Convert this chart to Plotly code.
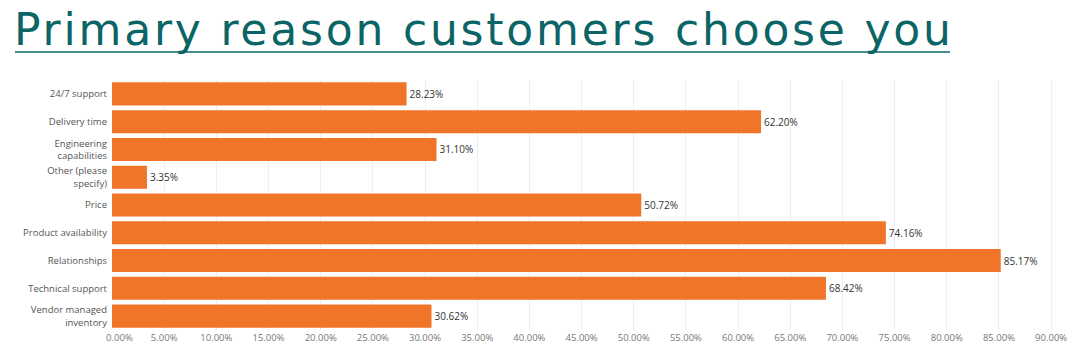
import plotly.graph_objects as go

categories = ["24/7 support", "Delivery time", "Engineering<br>capabilities",
              "Other (please<br>specify)", "Price", "Product availability",
              "Relationships", "Technical support", "Vendor managed<br>inventory"]
values = [28.23, 62.20, 31.10, 3.35, 50.72, 74.16, 85.17, 68.42, 30.62]
tick_vals = [0, 5, 10, 15, 20, 25, 30, 35, 40, 45, 50, 55, 60, 65, 70, 75, 80, 85, 90]
tick_text = ["\u00a0\u00a0\u00a0\u00a0\u00a0\u00a00.00%"] + [f"{v:.2f}%" for v in tick_vals[1:]]
title = "Primary reason customers choose you"

W, H = 1082, 360
L, T = 112, 80
R = 10
B = H - 330
PW, PH = W - L - R, H - T - B

fig = go.Figure(go.Bar(
    y=categories, x=values, orientation="h",
    marker=dict(color="#F07528", line=dict(width=0)),
    text=[f"{v:.2f}%" for v in values], textposition="outside",
    textfont=dict(size=10, color="#333333", family="Open Sans"),
    cliponaxis=False, width=0.83,
))

fig.update_layout(
    width=W, height=H,
    margin=dict(l=L, r=R, t=T, b=B, autoexpand=False),
    paper_bgcolor="white", plot_bgcolor="white",
    showlegend=False,
    font=dict(family="Open Sans", size=10, color="#555555"),
    xaxis=dict(range=[0, 92], tickvals=tick_vals, ticktext=tick_text,
               showgrid=True, gridcolor="#EEEEEE", gridwidth=1,
               zeroline=False, showline=False, ticks="", automargin=False,
               tickfont=dict(size=9.5, color="#777777")),
    yaxis=dict(autorange="reversed", showgrid=False, zeroline=False,
               ticks="", ticklabelstandoff=4, automargin=False,
               tickfont=dict(size=9.5, color="#555555")),
)
fig.add_annotation(text=f'<span style="letter-spacing:2.8px">{title}</span>',
                   xref="paper", yref="paper",
                   x=(13 - L) / PW, y=1 + (T - 3) / PH, xanchor="left", yanchor="top",
                   showarrow=False, borderpad=0,
                   font=dict(family="DejaVu Sans", size=44, color="#0B6466"))
fig.add_shape(type="line", xref="paper", yref="paper",
              x0=(15 - L) / PW, x1=(950 - L) / PW,
              y0=1 + (T - 52) / PH, y1=1 + (T - 52) / PH,
              line=dict(color="#0B6466", width=1.5))

fig.write_html("out.html", config={"displayModeBar": False},
               post_script="document.body.style.margin='0';")
